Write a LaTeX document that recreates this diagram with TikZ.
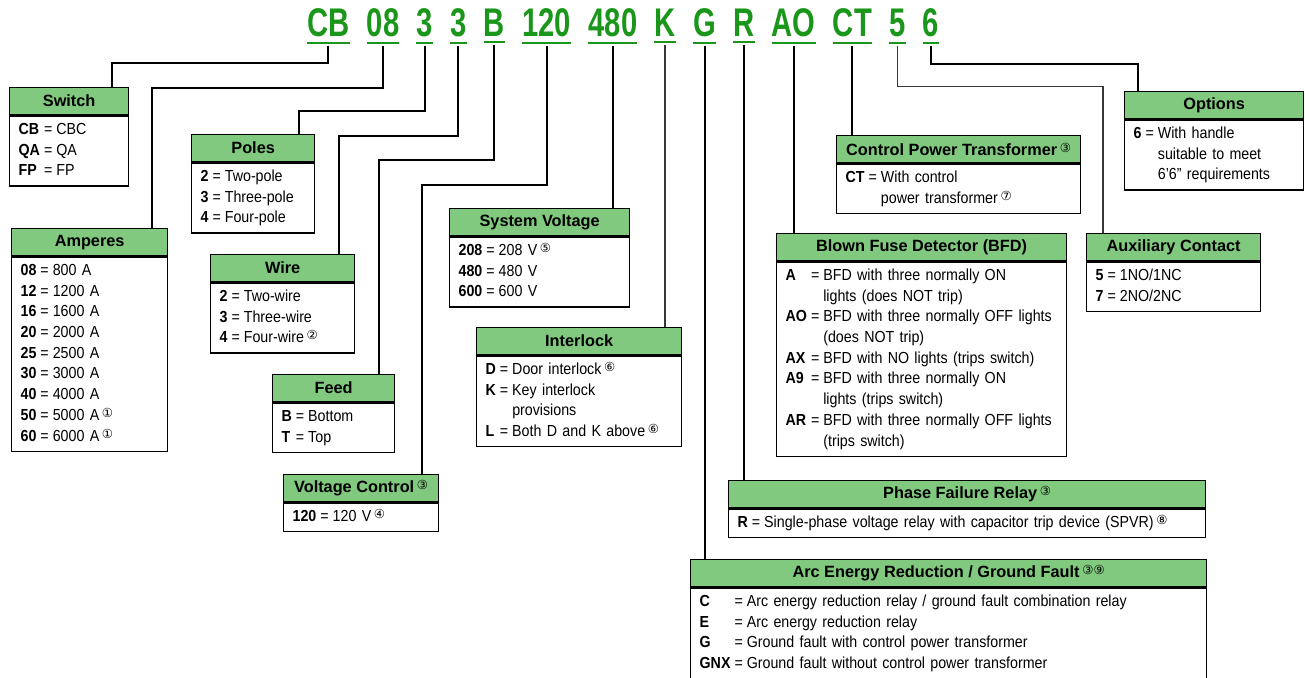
\documentclass[tikz,border=0pt]{standalone}
\usepackage{fontspec}
\setmainfont{Liberation Sans}[FakeStretch=0.89]
\newfontfamily\headfont{Liberation Sans}
\newfontfamily\codefont{Liberation Sans}[FakeStretch=0.73]
\newfontfamily\circfont{DejaVu Sans}
\usepackage{xcolor}
\usepackage{tikz}
\usetikzlibrary{positioning}
\definecolor{headgreen}{RGB}{128, 201, 126}
\definecolor{codegreen}{RGB}{26, 150, 26}
\definecolor{linkgray}{RGB}{55, 55, 55}
\newcommand{\cnum}[1]{\,{\circfont\mdseries\fontsize{12.5}{12.5}\selectfont\raisebox{3pt}{#1}}}
\newcommand{\keylist}[1]{\begin{tabular}{@{\hspace{9pt}}l@{\hspace{4pt}}l@{\hspace{4pt}}l@{}}#1\end{tabular}}

\begin{document}
\begin{tikzpicture}[
    x=1pt, y=-1pt,
    node distance=17pt,
    % Define styles
    code/.style = {text=codegreen, font=\codefont\bfseries\fontsize{40}{40}\selectfont, inner xsep=0pt, inner ysep=5pt},
    uline/.style = {draw=codegreen, line width=2pt},
    header/.style = {rectangle, draw, line width=1.3pt, fill=headgreen, minimum width=#1, minimum height=27pt, inner sep=0pt, anchor=north west, font=\headfont\bfseries\fontsize{16.3}{18}\selectfont},
    keybox/.style = {rectangle, draw, line width=1.3pt, fill=white, text width=#1, inner xsep=0pt, inner ysep=4pt, align=left, font=\fontsize{16}{20.7}\selectfont},
    link/.style = {line width=2pt},
    thinlink/.style = {line width=1.5pt, draw=linkgray}
]
\useasboundingbox (0,0) rectangle (1305,677);

% Catalog number
\node [code, anchor=base west] (sw) at (307,37) {CB};
\node [code, base right=of sw] (amp) {08};
\node [code, base right=of amp] (pole) {3};
\node [code, base right=of pole] (wire) {3};
\node [code, base right=of wire] (feed) {B};
\node [code, base right=of feed] (vctl) {120};
\node [code, base right=of vctl] (sysv) {480};
\node [code, base right=of sysv] (ilk) {K};
\node [code, base right=of ilk] (arc) {G};
\node [code, base right=of arc] (pfr) {R};
\node [code, base right=of pfr] (bfd) {AO};
\node [code, base right=of bfd] (cpt) {CT};
\node [code, base right=of cpt] (aux) {5};
\node [code, base right=of aux] (opt) {6};
\foreach \c in {sw,amp,pole,wire,feed,vctl,sysv,ilk,arc,pfr,bfd,cpt,aux,opt}
    \draw [uline] (\c.south west) -- (\c.south east);

% Boxes
\node [header=119pt] (swhead) at (9,87) {Switch};
\node [keybox=119pt, below=0pt of swhead] (swbody) {\keylist{\textbf{CB} & = & CBC\\ \textbf{QA} & = & QA\\ \textbf{FP} & = & FP}};

\node [header=156pt] (amphead) at (11,228) {Amperes};
\node [keybox=156pt, below=0pt of amphead] (ampbody) {\keylist{\textbf{08} & = & 800 A\\ \textbf{12} & = & 1200 A\\ \textbf{16} & = & 1600 A\\ \textbf{20} & = & 2000 A\\ \textbf{25} & = & 2500 A\\ \textbf{30} & = & 3000 A\\ \textbf{40} & = & 4000 A\\ \textbf{50} & = & 5000 A\cnum{①}\\ \textbf{60} & = & 6000 A\cnum{①}}};

\node [header=123pt] (polehead) at (191,134) {Poles};
\node [keybox=123pt, below=0pt of polehead] (polebody) {\keylist{\textbf{2} & = & Two-pole\\ \textbf{3} & = & Three-pole\\ \textbf{4} & = & Four-pole}};

\node [header=144pt] (wirehead) at (210,254) {Wire};
\node [keybox=144pt, below=0pt of wirehead] (wirebody) {\keylist{\textbf{2} & = & Two-wire\\ \textbf{3} & = & Three-wire\\ \textbf{4} & = & Four-wire\cnum{②}}};

\node [header=122pt] (feedhead) at (272,374) {Feed};
\node [keybox=122pt, below=0pt of feedhead] (feedbody) {\keylist{\textbf{B} & = & Bottom\\ \textbf{T} & = & Top}};

\node [header=155pt] (vctlhead) at (283,474) {Voltage Control\cnum{③}};
\node [keybox=155pt, below=0pt of vctlhead] (vctlbody) {\keylist{\textbf{120} & = & 120 V\cnum{④}}};

\node [header=180pt] (sysvhead) at (449,208) {System Voltage};
\node [keybox=180pt, below=0pt of sysvhead] (sysvbody) {\keylist{\textbf{208} & = & 208 V\cnum{⑤}\\ \textbf{480} & = & 480 V\\ \textbf{600} & = & 600 V}};

\node [header=205pt] (ilkhead) at (476,327) {Interlock};
\node [keybox=205pt, below=0pt of ilkhead] (ilkbody) {\keylist{\textbf{D} & = & Door interlock\cnum{⑥}\\ \textbf{K} & = & Key interlock\\ & & provisions\\ \textbf{L} & = & Both D and K above\cnum{⑥}}};

\node [header=244pt] (cpthead) at (836,135) {Control Power Transformer\cnum{③}};
\node [keybox=244pt, below=0pt of cpthead] (cptbody) {\keylist{\textbf{CT} & = & With control\\ & & power transformer\cnum{⑦}}};

\node [header=179pt] (opthead) at (1124,91) {Options};
\node [keybox=179pt, below=0pt of opthead] (optbody) {\keylist{\textbf{6} & = & With handle\\ & & suitable to meet\\ & & 6’6” requirements}};

\node [header=290pt] (bfdhead) at (776,233) {Blown Fuse Detector (BFD)};
\node [keybox=290pt, below=0pt of bfdhead] (bfdbody) {\keylist{\textbf{A} & = & BFD with three normally ON\\ & & lights (does NOT trip)\\ \textbf{AO} & = & BFD with three normally OFF lights\\ & & (does NOT trip)\\ \textbf{AX} & = & BFD with NO lights (trips switch)\\ \textbf{A9} & = & BFD with three normally ON\\ & & lights (trips switch)\\ \textbf{AR} & = & BFD with three normally OFF lights\\ & & (trips switch)}};

\node [header=174pt] (auxhead) at (1086,233) {Auxiliary Contact};
\node [keybox=174pt, below=0pt of auxhead] (auxbody) {\keylist{\textbf{5} & = & 1NO/1NC\\ \textbf{7} & = & 2NO/2NC}};

\node [header=477pt] (pfrhead) at (728,480) {Phase Failure Relay\cnum{③}};
\node [keybox=477pt, below=0pt of pfrhead] (pfrbody) {\keylist{\textbf{R} & = & Single-phase voltage relay with capacitor trip device (SPVR)\cnum{⑧}}};

\node [header=516pt] (archead) at (690,559) {Arc Energy Reduction / Ground Fault\cnum{③⑨}};
\node [keybox=516pt, below=0pt of archead] (arcbody) {\keylist{\textbf{C} & = & Arc energy reduction relay / ground fault combination relay\\ \textbf{E} & = & Arc energy reduction relay\\ \textbf{G} & = & Ground fault with control power transformer\\ \textbf{GNX} & = & Ground fault without control power transformer}};

% Leader lines
\draw [link] ([yshift=-3pt]sw.south) -- ++(0,17) -| ([xshift=103pt]swhead.north west);
\draw [link] ([yshift=-3pt]amp.south) -- ++(0,42) -| ([xshift=141pt]amphead.north west);
\draw [link] ([yshift=-3pt]pole.south) -- ++(0,65) -| ([xshift=108pt]polehead.north west);
\draw [link] ([yshift=-3pt]wire.south) -- ++(0,90) -| ([xshift=129pt]wirehead.north west);
\draw [link] ([yshift=-3pt]feed.south) -- ++(0,115) -| ([xshift=107pt]feedhead.north west);
\draw [link] ([yshift=-3pt]vctl.south) -- ++(0,139) -| ([xshift=139pt]vctlhead.north west);
\draw [link] ([yshift=-3pt]sysv.south) -- (sysv.south |- sysvhead.north);
\draw [thinlink] ([yshift=-3pt]ilk.south) -- (ilk.south |- ilkhead.north);
\draw [link] ([yshift=-3pt]arc.south) -- (arc.south |- archead.north);
\draw [link] ([yshift=-3pt]pfr.south) -- (pfr.south |- pfrhead.north);
\draw [link] ([yshift=-3pt]bfd.south) -- (bfd.south |- bfdhead.north);
\draw [link] ([yshift=-3pt]cpt.south) -- (cpt.south |- cpthead.north);
\draw [thinlink] ([yshift=-3pt]aux.south) -- ++(0,41) -| ([xshift=17pt]auxhead.north west);
\draw [link] ([yshift=-3pt]opt.south) -- ++(0,18) -| ([xshift=14pt]opthead.north west);

\end{tikzpicture}
\end{document}
